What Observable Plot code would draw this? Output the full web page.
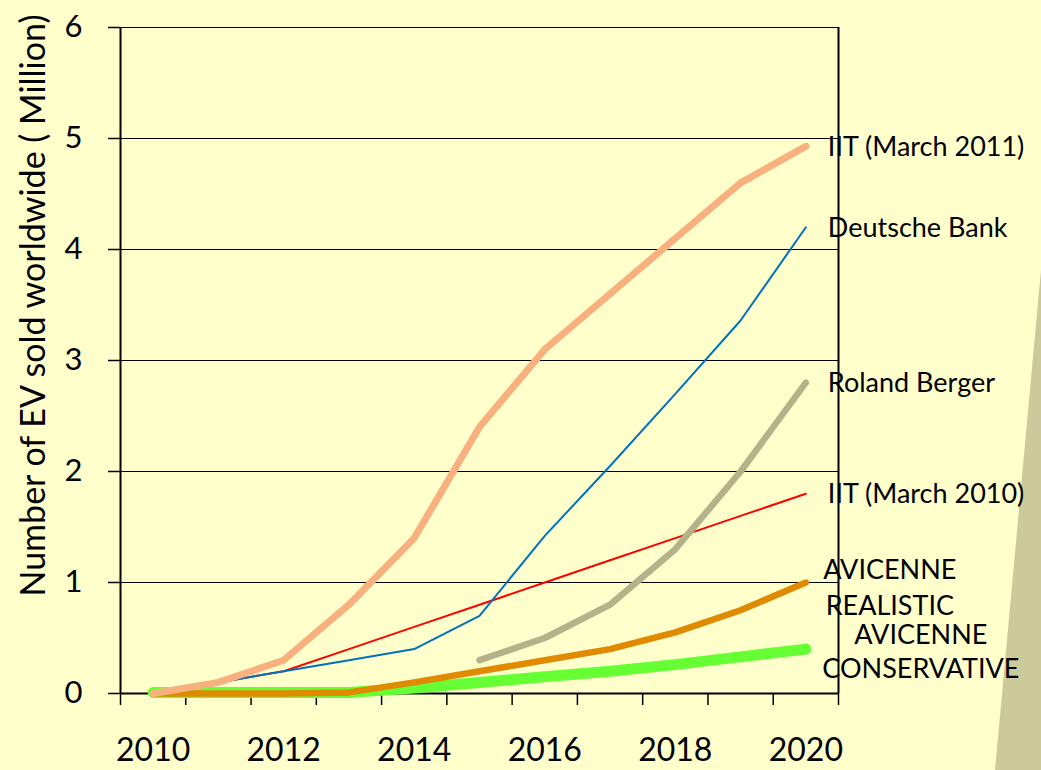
<!DOCTYPE html>
<html>
<head>
<meta charset="utf-8">
<script src="https://cdn.jsdelivr.net/npm/d3@7"></script>
<script src="https://cdn.jsdelivr.net/npm/@observablehq/plot@0.6"></script>
<style>
  html, body { margin: 0; padding: 0; background: #FFFFCC; }
  #wrap { position: relative; width: 1041px; height: 770px; overflow: hidden; }
  #deco { position: absolute; left: 0; top: 0; }
  #chart { position: absolute; left: 0; top: 0; }
  #chart svg { background: transparent; }
</style>
</head>
<body>
<div id="wrap">
  <svg id="deco" width="1041" height="770"><polygon points="1041,270 1041,770 995,770" fill="#CCC99A"></polygon></svg>
  <div id="chart"></div>
</div>
<script>
const years = [2010, 2011, 2012, 2013, 2014, 2015, 2016, 2017, 2018, 2019, 2020];
const iitMarch2011 = [0, 0.1, 0.3, 0.8, 1.4, 2.4, 3.1, 3.6, 4.1, 4.6, 4.93];
const deutscheBank = [0, 0.1, 0.2, 0.3, 0.4, 0.7, 1.42, 2.05, 2.7, 3.36, 4.2];
const rolandBerger = [null, null, null, null, null, 0.3, 0.5, 0.8, 1.3, 2.0, 2.8];
const iitMarch2010 = [0, 0.1, 0.2, 0.4, 0.6, 0.8, 1.0, 1.2, 1.4, 1.6, 1.8];
const avicenneRealistic = [0, 0, 0, 0.01, 0.1, 0.2, 0.3, 0.4, 0.55, 0.75, 1.0];
const avicenneConservative = [0.01, 0.01, 0.01, 0.01, 0.05, 0.1, 0.15, 0.2, 0.26, 0.33, 0.4];
const yTicks = [0, 1, 2, 3, 4, 5, 6];
const xTickLabels = [2010, 2012, 2014, 2016, 2018, 2020];
const yTitle = "Number of EV sold worldwide ( Million)";

const series = [
  {name: "AVICENNE\nCONSERVATIVE", values: avicenneConservative, color: "#66FF33", width: 11},
  {name: "AVICENNE\nREALISTIC", values: avicenneRealistic, color: "#E08A00", width: 6.5},
  {name: "IIT (March 2010)", values: iitMarch2010, color: "#FF0000", width: 2},
  {name: "Deutsche Bank", values: deutscheBank, color: "#0070C0", width: 2},
  {name: "Roland Berger", values: rolandBerger, color: "#B5B28A", width: 6.5},
  {name: "IIT (March 2011)", values: iitMarch2011, color: "#F9B07F", width: 7}
];

const rows = s => years.map((yr, i) => ({year: yr, value: s.values[i], name: s.name}));
const ends = series.map(s => ({year: years[years.length - 1], value: s.values[s.values.length - 1], name: s.name}));
const boundaries = years.map(y => y - 0.5).concat([years[years.length - 1] + 0.5]);
const font = "Lato, 'Noto Sans', sans-serif";

const marks = [
  Plot.gridY(yTicks.filter(d => d > 0), {stroke: "#000", strokeOpacity: 1, strokeWidth: 1.2}),
  Plot.axisY(yTicks, {tickSize: 12, tickPadding: 26, tickFormat: d => String(d), fontSize: 31, fontFamily: font, fill: "#000", stroke: "#000", strokeWidth: 1.5, label: null}),
  Plot.axisX(boundaries, {tickSize: 12, tickFormat: () => "", stroke: "#000", strokeWidth: 1.5, label: null}),
  Plot.axisX(xTickLabels, {tickSize: 0, tickPadding: 45, tickFormat: d => String(d), fontSize: 32, fontFamily: font, fill: "#000", label: null}),
  Plot.ruleX([boundaries[0], boundaries[boundaries.length - 1]], {stroke: "#000", strokeWidth: 2}),
  Plot.ruleY([0], {stroke: "#000", strokeWidth: 2, x1: boundaries[0], x2: boundaries[boundaries.length - 1]}),
  ...series.map(s => Plot.line(rows(s), {
    x: "year", y: "value", stroke: s.color, strokeWidth: s.width,
    strokeLinecap: "round", strokeLinejoin: "round", curve: "linear"
  })),
  Plot.text(ends.filter(d => !d.name.includes("\n")), {
    x: "year", y: "value", text: "name", textAnchor: "start", dx: 22, dy: 1,
    fontSize: 27, fontFamily: font, fill: "#000"
  }),
  Plot.text(ends.filter(d => d.name === "AVICENNE\nREALISTIC"), {
    x: "year", y: "value", text: "name", textAnchor: "middle", dx: 84, dy: 3,
    lineHeight: 1.33, fontSize: 27, fontFamily: font, fill: "#000"
  }),
  Plot.text(ends.filter(d => d.name === "AVICENNE\nCONSERVATIVE"), {
    x: "year", y: "value", text: "name", textAnchor: "middle", dx: 115, dy: 1,
    lineHeight: 1.26, fontSize: 27, fontFamily: font, fill: "#000"
  }),
  Plot.text([yTitle], {
    frameAnchor: "left", textAnchor: "middle", text: d => d, rotate: -90, dx: -86, dy: -55,
    fontSize: 34, fontFamily: font, fill: "#000"
  })
];

const chart = Plot.plot({
  width: 1041,
  height: 770,
  marginLeft: 120,
  marginRight: 203,
  marginTop: 27,
  marginBottom: 77,
  style: {background: "transparent", fontFamily: font, overflow: "visible"},
  x: {type: "linear", domain: [boundaries[0], boundaries[boundaries.length - 1]], axis: null},
  y: {type: "linear", domain: [0, 6], axis: null},
  marks
});
document.getElementById("chart").appendChild(chart);
</script>
</body>
</html>
